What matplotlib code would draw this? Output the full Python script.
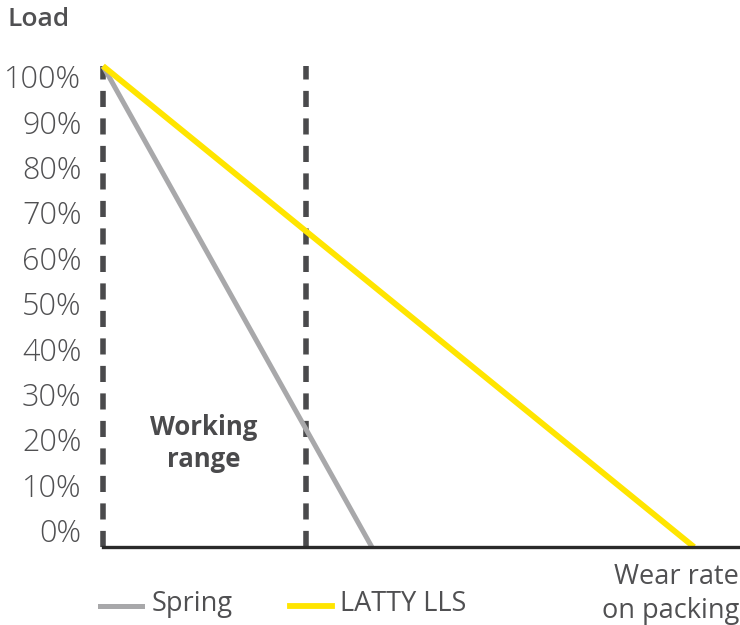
import matplotlib
matplotlib.use("Agg")
import matplotlib.pyplot as plt
import numpy as np
from matplotlib.lines import Line2D

# data (x in relative wear units, y in load %)
spring_x = [0, 42.3]
spring_y = [100, 0]
latty_x = [0, 93.0]
latty_y = [100, 0]
working_range = [0, 31.9]
tick_labels = ["0%", "10%", "20%", "30%", "40%", "50%", "60%", "70%", "80%", "90%", "100%"]

YELLOW = "#FFE500"
GRAY = "#A8A8AA"
DARK = "#4A4A4C"
TEXT = "#505052"
FONT = "Open Sans"

fig = plt.figure(figsize=(7.4, 6.25), dpi=100)
ax = fig.add_axes([103/740, 1-547/625, 1-103/740-0.002, (547-66)/625])

ax.plot(spring_x, spring_y, color=GRAY, lw=3.6, solid_capstyle="butt", zorder=3, clip_on=False)
ax.plot(latty_x, latty_y, color=YELLOW, lw=4.2, solid_capstyle="butt", zorder=4, clip_on=False)
for xv in working_range:
    ax.plot([xv, xv], [0, 100], color=DARK, lw=4.0, dashes=(2.9, 2.05), zorder=2,
            clip_on=False, solid_capstyle="butt", dash_capstyle="butt")

ax.set_xlim(0, 100)
ax.set_ylim(0, 100)
ax.set_yticks(np.linspace(3.5, 97.9, 11))
ax.set_yticklabels(tick_labels, fontsize=22, color=TEXT, family=FONT, fontweight="light")
ax.tick_params(axis="y", length=0, pad=15.5)
ax.set_xticks([])
for s in ["top", "right", "left"]:
    ax.spines[s].set_visible(False)
ax.spines["bottom"].set_color("#2a2a2a")
ax.spines["bottom"].set_linewidth(2.4)
ax.spines["bottom"].set_zorder(5)

ax.text(15.9, 21.5, "Working\nrange", ha="center", va="center", fontsize=18.5,
        fontweight="bold", color=DARK, family=FONT, linespacing=1.2)

fig.text(8/740, 1-20/625, "Load", fontsize=19, color=TEXT, family=FONT,
         fontweight="semibold", va="center", ha="left")
fig.text(739/740, 1-594/625, "Wear rate\non packing", fontsize=19.5, color=TEXT,
         family=FONT, ha="right", va="center", linespacing=1.25)

# legend
fig.add_artist(Line2D([100/740, 142/740], [1-606/625]*2, color=GRAY, lw=3.6))
fig.text(152/740, 1-604/625, "Spring", fontsize=19.5, color=TEXT, family=FONT, va="center")
fig.add_artist(Line2D([290/740, 332/740], [1-606/625]*2, color=YELLOW, lw=4.2))
fig.text(340/740, 1-604/625, "LATTY LLS", fontsize=19.5, color=TEXT, family=FONT, va="center")

fig.savefig("out.png", dpi=100)
